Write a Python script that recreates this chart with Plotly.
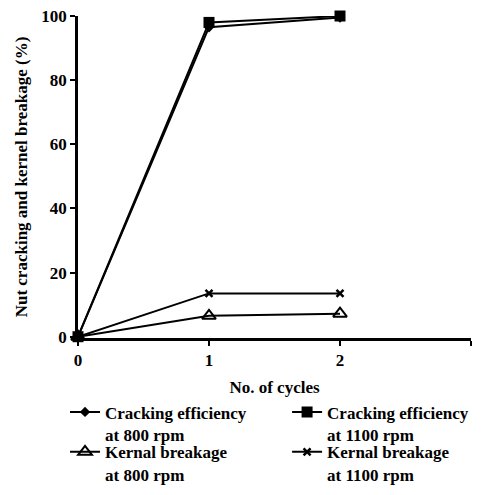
import plotly.graph_objects as go

cycles = [0, 1, 2]
crack_800 = [0, 96.5, 99.5]
crack_1100 = [0, 98, 100]
kernel_800 = [0, 6.5, 7.2]
kernel_1100 = [0, 13.5, 13.5]

names = ["Cracking efficiency<br>at 800 rpm", "Cracking efficiency<br>at 1100 rpm",
         "Kernal breakage<br>at 800 rpm", "Kernal breakage<br>at 1100 rpm"]
legend_ids = ["legend", "legend2", "legend3", "legend4"]
y_ticks = [0, 20, 40, 60, 80, 100]
x_ticks = [0, 1, 2, 3]
x_ticklabels = ["0", "1", "2", ""]

fig = go.Figure()
series = [crack_800, crack_1100, kernel_800, kernel_1100]
markers = [
    dict(symbol="diamond", size=8, color="black"),
    dict(symbol="square", size=11, color="black"),
    dict(symbol="triangle-up-open", size=12, color="black", line=dict(width=2, color="black")),
    dict(symbol="x-thin", size=7, color="black", line=dict(width=2.5, color="black")),
]
for n, s, m, lg in zip(names, series, markers, legend_ids):
    fig.add_trace(go.Scatter(x=cycles, y=s, name=n, mode="lines+markers", legend=lg,
                             line=dict(color="black", width=2), marker=m, cliponaxis=False))

font = "Liberation Serif"
leg_common = dict(orientation="v", yanchor="top", xanchor="left", valign="top",
                  tracegroupgap=0, bgcolor="rgba(0,0,0,0)",
                  font=dict(family=font, size=17, color="black", weight="bold"))
row1_y, row2_y = -0.175, -0.299
col1_x, col2_x = -0.033, 0.532
fig.update_layout(
    width=473, height=487,
    margin=dict(l=70, r=10, t=8, b=157, autoexpand=False),
    plot_bgcolor="white", paper_bgcolor="white",
    font=dict(family=font, color="black", size=16),
    showlegend=True,
    legend=dict(x=col1_x, y=row1_y, **leg_common),
    legend2=dict(x=col2_x, y=row1_y, **leg_common),
    legend3=dict(x=col1_x, y=row2_y, **leg_common),
    legend4=dict(x=col2_x, y=row2_y, **leg_common),
    xaxis=dict(range=[0, 3], tickvals=x_ticks, ticktext=x_ticklabels, showgrid=False,
               zeroline=False, showline=True, linecolor="black", linewidth=2.5,
               ticks="outside", ticklen=5, tickwidth=2, tickcolor="black",
               ticklabeloverflow="allow",
               tickfont=dict(family=font, size=17, color="black", weight="bold"),
               title=dict(text="No. of cycles", standoff=12,
                          font=dict(family=font, size=17, color="black", weight="bold"))),
    yaxis=dict(range=[-0.4, 100], tickvals=y_ticks, showgrid=False, zeroline=False,
               showline=True, linecolor="black", linewidth=2.5,
               ticks="outside", ticklen=5, tickwidth=2, tickcolor="black",
               ticklabeloverflow="allow",
               tickfont=dict(family=font, size=17, color="black", weight="bold"),
               title=dict(text="Nut cracking and kernel breakage (%)", standoff=10,
                          font=dict(family=font, size=17, color="black", weight="bold"))),
)
fig.write_html("out.html")
